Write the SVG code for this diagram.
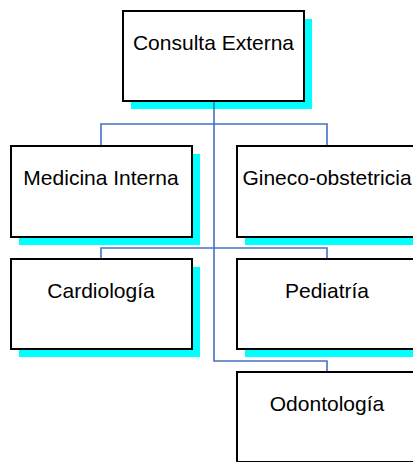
<svg xmlns="http://www.w3.org/2000/svg" width="413" height="462" viewBox="0 0 413 462">
<style>
.sh{fill:#00FFFF;stroke:none}
.bx{fill:#FFFFFF;stroke:#000000;stroke-width:2}
.t{font-family:"Liberation Sans",Arial,sans-serif;font-size:21px;fill:#000000;text-anchor:middle}
.c{fill:none;stroke:#4472C4;stroke-width:1.6}
</style>
<rect width="413" height="462" fill="#FFFFFF"/>
<g id="shadows">
<rect class="sh" x="131" y="19" width="181" height="90"/>
<rect class="sh" x="19" y="154" width="181" height="91"/>
<rect class="sh" x="245" y="154" width="181" height="91"/>
<rect class="sh" x="19" y="267" width="181" height="90"/>
<rect class="sh" x="245" y="267" width="181" height="90"/>
<rect class="sh" x="245" y="380" width="181" height="90"/>
</g>
<g id="connectors">
<path class="c" d="M214,101 V361 H327 V372"/>
<path class="c" d="M101,146 V124 H327 V146"/>
<path class="c" d="M101,259 V248 H327 V259"/>
</g>
<g id="consulta-externa">
<rect class="bx" x="123" y="11" width="181" height="90"/>
<text class="t" x="213.5" y="50">Consulta Externa</text>
</g>
<g id="medicina-interna">
<rect class="bx" x="11" y="146" width="181" height="91"/>
<text class="t" x="101" y="185">Medicina Interna</text>
</g>
<g id="gineco-obstetricia">
<rect class="bx" x="237" y="146" width="181" height="91"/>
<text class="t" x="327" y="185">Gineco-obstetricia</text>
</g>
<g id="cardiologia">
<rect class="bx" x="11" y="259" width="181" height="90"/>
<text class="t" x="101" y="298">Cardiología</text>
</g>
<g id="pediatria">
<rect class="bx" x="237" y="259" width="181" height="90"/>
<text class="t" x="327" y="298">Pediatría</text>
</g>
<g id="odontologia">
<rect class="bx" x="237" y="372" width="181" height="90"/>
<text class="t" x="327" y="411">Odontología</text>
</g>
</svg>
